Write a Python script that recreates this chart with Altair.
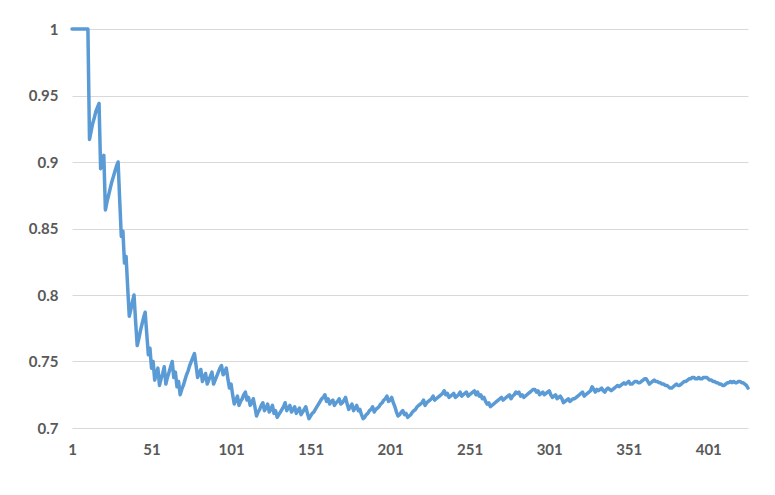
import altair as alt
import pandas as pd

# running ratio values, index 1..426
values = [
    1, 1, 1, 1, 1, 1, 1, 1, 1, 1,
    1, .917, .923, .929, .933, .938, .941, .944, .895, .900,
    .905, .864, .870, .875, .880, .885, .889, .893, .897, .900,
    .871, .844, .848, .824, .829, .806, .784, .789, .795, .800,
    .780, .762, .767, .773, .778, .783, .787, .771, .755, .760,
    .745, .750, .736, .741, .745, .732, .737, .741, .746, .733,
    .738, .742, .746, .750, .738, .742, .731, .735, .725, .729,
    .732, .736, .740, .743, .747, .750, .753, .756, .747, .738,
    .741, .744, .735, .738, .741, .733, .736, .739, .742, .733,
    .736, .739, .742, .745, .747, .740, .742, .745, .737, .730,
    .733, .725, .718, .721, .724, .717, .720, .722, .725, .727,
    .721, .723, .717, .719, .722, .716, .709, .712, .714, .717,
    .719, .713, .715, .718, .712, .714, .717, .711, .713, .708,
    .710, .712, .714, .716, .719, .713, .715, .717, .712, .714,
    .716, .711, .713, .715, .710, .712, .714, .716, .711, .707,
    .709, .711, .712, .714, .716, .718, .720, .722, .723, .725,
    .720, .722, .718, .720, .721, .717, .719, .720, .722, .718,
    .719, .721, .723, .718, .714, .716, .718, .713, .715, .717,
    .713, .714, .710, .707, .708, .710, .711, .713, .714, .716,
    .712, .714, .715, .716, .718, .719, .721, .722, .724, .720,
    .721, .723, .719, .716, .712, .709, .710, .712, .713, .710,
    .711, .708, .709, .710, .712, .713, .714, .716, .717, .718,
    .719, .721, .717, .719, .720, .721, .722, .724, .721, .722,
    .723, .724, .725, .726, .728, .725, .726, .723, .724, .725,
    .726, .723, .724, .725, .727, .724, .725, .726, .727, .724,
    .725, .726, .727, .728, .725, .727, .724, .725, .722, .723,
    .720, .718, .719, .716, .717, .718, .719, .720, .721, .722,
    .723, .721, .722, .723, .724, .725, .722, .724, .725, .727,
    .726, .727, .724, .725, .723, .724, .725, .726, .727, .728,
    .729, .729, .727, .728, .725, .726, .727, .725, .726, .727,
    .728, .725, .723, .724, .725, .722, .723, .724, .722, .719,
    .720, .721, .722, .720, .721, .722, .722, .723, .724, .725,
    .726, .727, .724, .725, .726, .727, .728, .731, .729, .727,
    .729, .728, .729, .730, .728, .727, .729, .730, .729, .728,
    .729, .730, .731, .732, .731, .732, .733, .734, .733, .734,
    .735, .733, .733, .734, .735, .735, .734, .734, .735, .736,
    .737, .737, .735, .733, .734, .735, .736, .735, .735, .734,
    .734, .733, .733, .732, .732, .731, .730, .730, .731, .732,
    .733, .732, .732, .733, .734, .735, .735, .736, .737, .737,
    .738, .738, .737, .737, .738, .737, .737, .738, .738, .738,
    .737, .736, .736, .735, .735, .734, .734, .733, .733, .732,
    .732, .733, .734, .734, .735, .734, .735, .734, .734, .735,
    .735, .734, .734, .733, .732, .730,
]
index = list(range(1, len(values) + 1))
x_ticks = [1, 51, 101, 151, 201, 251, 301, 351, 401]
y_ticks = [0.7, 0.75, 0.8, 0.85, 0.9, 0.95, 1.0]

df = pd.DataFrame({"i": index, "v": values})

label_style = dict(labelFont="Lato", labelFontSize=15, labelFontWeight="bold",
                   labelColor="#595959")

chart = alt.Chart(df).mark_line(color="#5B9BD5", strokeWidth=3.5, strokeJoin="round",
                                strokeCap="round").encode(
    x=alt.X("i:Q", scale=alt.Scale(domain=[1, len(values)], nice=False, zero=False),
            axis=alt.Axis(values=x_ticks, title=None, grid=False, ticks=False, domain=False,
                          labelPadding=14, labelFlush=False, **label_style)),
    y=alt.Y("v:Q", scale=alt.Scale(domain=[0.7, 1.0], nice=False, zero=False),
            axis=alt.Axis(values=y_ticks, format=".2~f", title=None, ticks=False, domain=False,
                          gridColor="#d9d9d9", gridWidth=1, labelPadding=14, **label_style)),
).properties(
    width=676, height=399,
    padding={"left": 64, "top": 21, "right": 19, "bottom": 58},
    autosize="none",
).configure_view(stroke=None)

chart.save("out.html", embed_options={"renderer": "svg", "actions": False})
